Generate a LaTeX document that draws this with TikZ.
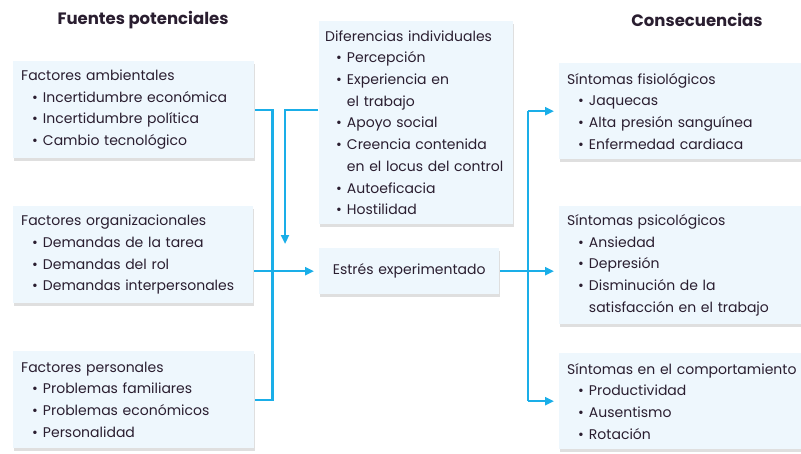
\documentclass[tikz,border=0pt]{standalone}
\usepackage{fontspec}
\setmainfont{Poppins}
\usetikzlibrary{positioning,arrows.meta,shadows,calc}

\definecolor{linea}{HTML}{1AAEE8}
\definecolor{fondo}{HTML}{EEF7FD}
\definecolor{tinta}{HTML}{2A1E30}

\newcommand{\itm}{\hspace*{11pt}\textbullet\hspace{5pt}}
\newcommand{\cnt}{\hspace*{11pt}\phantom{\textbullet}\hspace{5pt}}

\tikzset{
  caja/.style={fill=fondo, anchor=north west, align=left, inner xsep=8pt,
    drop shadow={shadow xshift=1pt, shadow yshift=-3pt, opacity=0.25},
    font=\fontsize{14}{21.7}\selectfont, text=tinta},
  titulo/.style={font=\fontsize{16.5}{18}\selectfont\bfseries, text=tinta},
  flecha/.style={-{Triangle[length=9pt,width=8pt]}, shorten >=4pt},
}

\begin{document}
\begin{tikzpicture}[x=1pt, y=-1pt, line width=2.4pt, draw=linea]
  \useasboundingbox (0,0) rectangle (801,453);

  \node[titulo] (fuentes) at (143,20) {Fuentes potenciales};
  \node[titulo] (consec) at (697,20) {Consecuencias};

  % fuentes potenciales
  \node[caja, text width=225pt, minimum height=97pt] (amb) at (12,60)
    {Factores ambientales\\ \itm Incertidumbre económica\\ \itm Incertidumbre política\\ \itm Cambio tecnológico};
  \node[caja, text width=224pt, minimum height=97pt] (org) at (12,205)
    {Factores organizacionales\\ \itm Demandas de la tarea\\ \itm Demandas del rol\\ \itm Demandas interpersonales};
  \node[caja, text width=225pt, minimum height=97pt] (pers) at (12,350)
    {Factores personales\\ \itm Problemas familiares\\ \itm Problemas económicos\\ \itm Personalidad};

  % centro
  \node[caja, inner xsep=6pt, text width=182pt, minimum height=203pt] (dif) at (318,20)
    {Diferencias individuales\\ \itm Percepción\\ \itm Experiencia en\\ \cnt el trabajo\\ \itm Apoyo social\\
     \itm Creencia contenida\\ \cnt en el locus del control\\ \itm Autoeficacia\\ \itm Hostilidad};
  \node[caja, text width=164pt, minimum height=46pt, align=center] (estres) at (318,247)
    {Estrés experimentado};

  % consecuencias
  \node[caja, text width=236pt, minimum height=96pt] (fis) at (558,62)
    {Síntomas fisiológicos\\ \itm Jaquecas\\ \itm Alta presión sanguínea\\ \itm Enfermedad cardiaca};
  \node[caja, text width=236pt, minimum height=118pt] (psi) at (558,205)
    {Síntomas psicológicos\\ \itm Ansiedad\\ \itm Depresión\\ \itm Disminución de la\\ \cnt satisfacción en el trabajo};
  \node[caja, text width=236pt, minimum height=96pt] (comp) at (558,352)
    {Síntomas en el comportamiento\\ \itm Productividad\\ \itm Ausentismo\\ \itm Rotación};

  \coordinate (dout) at (318,110);
  \coordinate (din) at (285,248);
  \coordinate (rbus) at (528,0);

  % conectores
  \draw (amb.east) -- ++(17,0) |- (pers.east);
  \draw[flecha] (estres.west -| org.east) -- (estres.west);
  \draw[flecha] (dout) -| (din);
  \draw (rbus |- fis.west) -- (rbus |- comp.west);
  \draw[flecha] (estres.east) -- (estres.east -| psi.west);
  \draw[flecha] (rbus |- fis.west) -- (fis.west);
  \draw[flecha] (rbus |- comp.west) -- (comp.west);
\end{tikzpicture}
\end{document}
